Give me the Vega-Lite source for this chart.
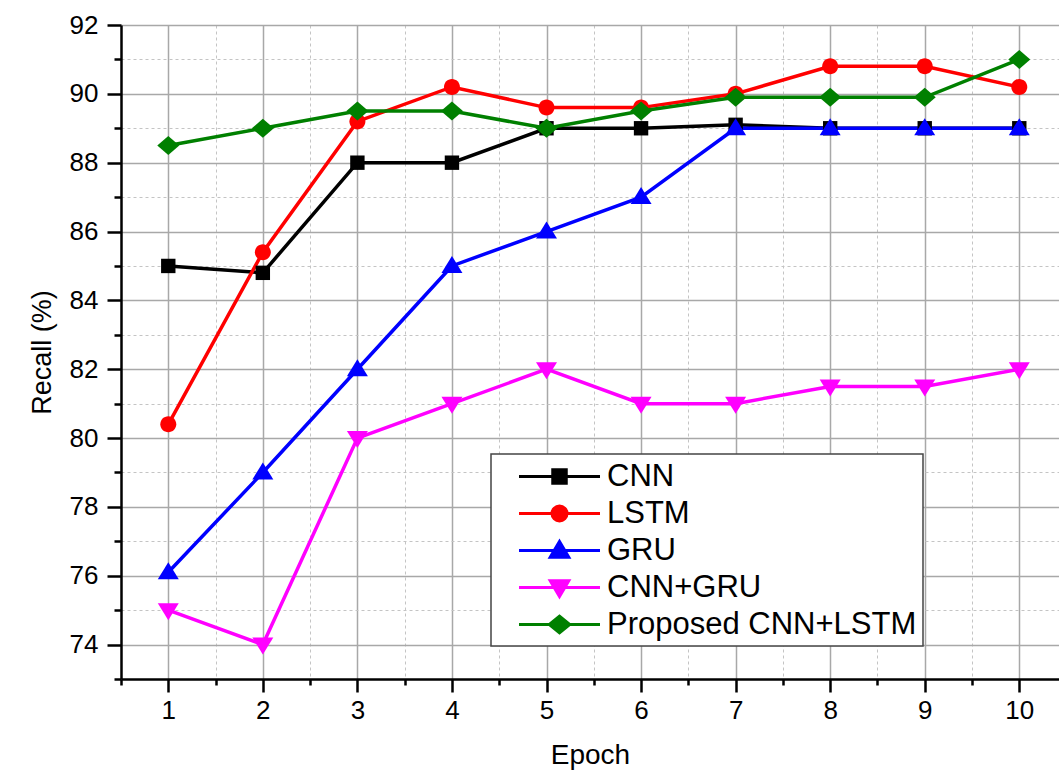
{
  "$schema": "https://vega.github.io/schema/vega-lite/v6.json",
  "width": 938,
  "height": 654,
  "autosize": {"type": "none"},
  "padding": {"left": 121, "top": 25, "right": 0, "bottom": 93},
  "background": "white",
  "config": {"view": {"stroke": null}, "font": "Liberation Sans"},
  "data": {
    "values": [
      {"model": "CNN", "epoch": 1, "recall": 85},
      {"model": "CNN", "epoch": 2, "recall": 84.8},
      {"model": "CNN", "epoch": 3, "recall": 88},
      {"model": "CNN", "epoch": 4, "recall": 88},
      {"model": "CNN", "epoch": 5, "recall": 89},
      {"model": "CNN", "epoch": 6, "recall": 89},
      {"model": "CNN", "epoch": 7, "recall": 89.1},
      {"model": "CNN", "epoch": 8, "recall": 89},
      {"model": "CNN", "epoch": 9, "recall": 89},
      {"model": "CNN", "epoch": 10, "recall": 89},
      {"model": "LSTM", "epoch": 1, "recall": 80.4},
      {"model": "LSTM", "epoch": 2, "recall": 85.4},
      {"model": "LSTM", "epoch": 3, "recall": 89.2},
      {"model": "LSTM", "epoch": 4, "recall": 90.2},
      {"model": "LSTM", "epoch": 5, "recall": 89.6},
      {"model": "LSTM", "epoch": 6, "recall": 89.6},
      {"model": "LSTM", "epoch": 7, "recall": 90},
      {"model": "LSTM", "epoch": 8, "recall": 90.8},
      {"model": "LSTM", "epoch": 9, "recall": 90.8},
      {"model": "LSTM", "epoch": 10, "recall": 90.2},
      {"model": "GRU", "epoch": 1, "recall": 76.1},
      {"model": "GRU", "epoch": 2, "recall": 79},
      {"model": "GRU", "epoch": 3, "recall": 82},
      {"model": "GRU", "epoch": 4, "recall": 85},
      {"model": "GRU", "epoch": 5, "recall": 86},
      {"model": "GRU", "epoch": 6, "recall": 87},
      {"model": "GRU", "epoch": 7, "recall": 89},
      {"model": "GRU", "epoch": 8, "recall": 89},
      {"model": "GRU", "epoch": 9, "recall": 89},
      {"model": "GRU", "epoch": 10, "recall": 89},
      {"model": "CNN+GRU", "epoch": 1, "recall": 75},
      {"model": "CNN+GRU", "epoch": 2, "recall": 74},
      {"model": "CNN+GRU", "epoch": 3, "recall": 80},
      {"model": "CNN+GRU", "epoch": 4, "recall": 81},
      {"model": "CNN+GRU", "epoch": 5, "recall": 82},
      {"model": "CNN+GRU", "epoch": 6, "recall": 81},
      {"model": "CNN+GRU", "epoch": 7, "recall": 81},
      {"model": "CNN+GRU", "epoch": 8, "recall": 81.5},
      {"model": "CNN+GRU", "epoch": 9, "recall": 81.5},
      {"model": "CNN+GRU", "epoch": 10, "recall": 82},
      {"model": "Proposed CNN+LSTM", "epoch": 1, "recall": 88.5},
      {"model": "Proposed CNN+LSTM", "epoch": 2, "recall": 89},
      {"model": "Proposed CNN+LSTM", "epoch": 3, "recall": 89.5},
      {"model": "Proposed CNN+LSTM", "epoch": 4, "recall": 89.5},
      {"model": "Proposed CNN+LSTM", "epoch": 5, "recall": 89},
      {"model": "Proposed CNN+LSTM", "epoch": 6, "recall": 89.5},
      {"model": "Proposed CNN+LSTM", "epoch": 7, "recall": 89.9},
      {"model": "Proposed CNN+LSTM", "epoch": 8, "recall": 89.9},
      {"model": "Proposed CNN+LSTM", "epoch": 9, "recall": 89.9},
      {"model": "Proposed CNN+LSTM", "epoch": 10, "recall": 91}
    ]
  },
  "layer": [
    {
      "mark": {"type": "line", "strokeWidth": 3.5},
      "encoding": {
        "x": {
          "field": "epoch", "type": "quantitative",
          "scale": {"domain": [0.5, 10.42], "nice": false, "zero": false},
          "axis": {
            "orient": "bottom", "values": [0.5, 1.5, 2.5, 3.5, 4.5, 5.5, 6.5, 7.5, 8.5, 9.5],
            "labels": false, "domain": false, "ticks": true, "tickSize": 6, "tickWidth": 2.5, "tickColor": "black",
            "grid": true, "gridDash": [3, 3], "gridColor": "#c4c4c4", "gridWidth": 1, "title": null
          }
        },
        "y": {
          "field": "recall", "type": "quantitative",
          "scale": {"domain": [73, 92], "nice": false, "zero": false},
          "axis": {
            "orient": "left", "values": [73, 75, 77, 79, 81, 83, 85, 87, 89, 91],
            "labels": false, "domain": false, "ticks": true, "tickSize": 7, "tickWidth": 2.5, "tickColor": "black",
            "grid": true, "gridDash": [3, 3], "gridColor": "#c4c4c4", "gridWidth": 1, "title": null
          }
        },
        "color": {
          "field": "model", "type": "nominal",
          "scale": {"domain": ["CNN", "LSTM", "GRU", "CNN+GRU", "Proposed CNN+LSTM"], "range": ["#000000", "#ff0000", "#0000ff", "#ff00ff", "#008000"]},
          "legend": {
            "orient": "none", "legendX": 370, "legendY": 429, "title": null,
            "padding": 6, "fillColor": "white", "strokeColor": "#444444",
            "labelFontSize": 31, "labelColor": "black", "labelFont": "Liberation Sans", "labelLimit": 600,
            "symbolSize": 900, "symbolStrokeWidth": 3, "symbolOffset": 46, "labelOffset": 31, "rowPadding": 5,
            "encode": {
              "symbols": {
                "update": {
                  "shape": {"signal": "datum.value === 'CNN' ? 'M-2.7,0H2.7M-0.45,-0.45H0.45V0.45H-0.45Z' : datum.value === 'LSTM' ? 'M-2.7,0H2.7M0.5,0A0.5,0.5,0,1,1,-0.5,0A0.5,0.5,0,1,1,0.5,0Z' : datum.value === 'GRU' ? 'M-2.7,0H2.7M0,-0.6L0.62,0.45H-0.62Z' : datum.value === 'CNN+GRU' ? 'M-2.7,0H2.7M0,0.6L0.62,-0.45H-0.62Z' : 'M-2.7,0H2.7M0,-0.55L0.68,0L0,0.55L-0.68,0Z'"},
                  "strokeWidth": {"value": 3},
                  "opacity": {"value": 1}
                }
              },
              "legend": {"update": {"strokeWidth": {"value": 1.5}}}
            }
          }
        }
      }
    },
    {
      "mark": {"type": "point", "filled": true, "opacity": 1, "size": 400},
      "encoding": {
        "x": {
          "field": "epoch", "type": "quantitative",
          "axis": {
            "orient": "bottom", "values": [1, 2, 3, 4, 5, 6, 7, 8, 9, 10], "format": "d",
            "grid": true, "gridColor": "#a8a8a8", "gridWidth": 1.5,
            "domainColor": "black", "domainWidth": 2.5, "tickColor": "black", "tickWidth": 2.5, "tickSize": 13,
            "labelFontSize": 26, "labelColor": "black", "labelFont": "Liberation Sans", "labelPadding": 5,
            "title": "Epoch", "titleFontSize": 28, "titleFontWeight": "normal", "titleColor": "black", "titleFont": "Liberation Sans", "titlePadding": 18
          }
        },
        "y": {
          "field": "recall", "type": "quantitative",
          "axis": {
            "orient": "left", "values": [74, 76, 78, 80, 82, 84, 86, 88, 90, 92], "format": "d",
            "grid": true, "gridColor": "#a8a8a8", "gridWidth": 1.5,
            "domainColor": "black", "domainWidth": 2.5, "tickColor": "black", "tickWidth": 2.5, "tickSize": 14,
            "labelFontSize": 26, "labelColor": "black", "labelFont": "Liberation Sans", "labelPadding": 9,
            "title": "Recall (%)", "titleFontSize": 27, "titleFontWeight": "normal", "titleColor": "black", "titleFont": "Liberation Sans", "titlePadding": 13
          }
        },
        "color": {
          "field": "model", "type": "nominal",
          "legend": {
            "orient": "none", "legendX": 370, "legendY": 429, "title": null,
            "padding": 6, "fillColor": "white", "strokeColor": "#444444",
            "labelFontSize": 31, "labelColor": "black", "labelFont": "Liberation Sans", "labelLimit": 600,
            "symbolSize": 900, "symbolStrokeWidth": 3, "symbolOffset": 46, "labelOffset": 31, "rowPadding": 5,
            "encode": {
              "symbols": {
                "update": {
                  "shape": {"signal": "datum.value === 'CNN' ? 'M-2.7,0H2.7M-0.45,-0.45H0.45V0.45H-0.45Z' : datum.value === 'LSTM' ? 'M-2.7,0H2.7M0.5,0A0.5,0.5,0,1,1,-0.5,0A0.5,0.5,0,1,1,0.5,0Z' : datum.value === 'GRU' ? 'M-2.7,0H2.7M0,-0.6L0.62,0.45H-0.62Z' : datum.value === 'CNN+GRU' ? 'M-2.7,0H2.7M0,0.6L0.62,-0.45H-0.62Z' : 'M-2.7,0H2.7M0,-0.55L0.68,0L0,0.55L-0.68,0Z'"},
                  "strokeWidth": {"value": 3},
                  "opacity": {"value": 1}
                }
              },
              "legend": {"update": {"strokeWidth": {"value": 1.5}}}
            }
          }
        },
        "shape": {
          "field": "model", "type": "nominal",
          "scale": {
            "domain": ["Proposed CNN+LSTM", "CNN+GRU", "GRU", "LSTM", "CNN"],
            "range": [
              "M0,-0.95L1.1,0L0,0.95L-1.1,0Z",
              "M0,1.0L1.05,-0.7H-1.05Z",
              "M0,-1.0L1.05,0.7H-1.05Z",
              "M0.8,0A0.8,0.8,0,1,1,-0.8,0A0.8,0.8,0,1,1,0.8,0Z",
              "M-0.72,-0.72H0.72V0.72H-0.72Z"
            ]
          },
          "legend": null
        }
      }
    }
  ],
  "resolve": {"axis": {"x": "independent", "y": "independent"}}
}
